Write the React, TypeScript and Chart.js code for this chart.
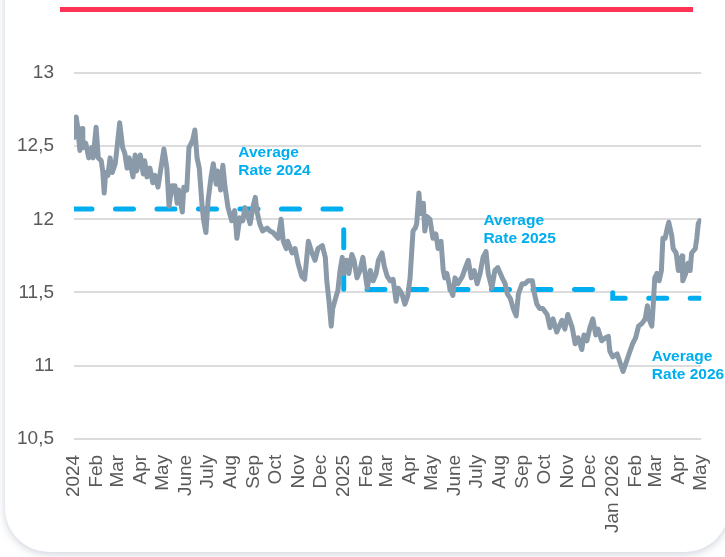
import React, { useEffect, useRef } from 'react';
import { Chart, registerables } from 'chart.js';

Chart.register(...registerables);

// Days since 2024-01-01 of each month start shown on the x axis
const tickDays = [0, 31, 60, 91, 121, 152, 182, 213, 244, 274, 305, 335, 366, 397, 425, 456, 486, 517, 547, 578, 609, 639, 670, 700, 731, 762, 790, 821, 851];
const tickLabels = ['2024', 'Feb', 'Mar', 'Apr', 'May', 'June', 'July', 'Aug', 'Sep', 'Oct', 'Nov', 'Dec', '2025', 'Feb', 'Mar', 'Apr', 'May', 'June', 'July', 'Aug', 'Sep', 'Oct', 'Nov', 'Dec', 'Jan 2026', 'Feb', 'Mar', 'Apr', 'May'];

// Observation days (since 2024-01-01) and rates
const days = [0, 3, 5, 8, 11, 12, 16, 20, 24, 26, 30, 33, 37, 39, 41, 43, 46, 49, 52, 56, 58, 62, 66, 69, 72, 75, 80, 83, 85, 90, 94, 96, 99, 103, 107, 110, 114, 118, 122, 126, 129, 133, 137, 140, 142, 147, 149, 153, 156, 161, 164, 167, 170, 174, 176, 179, 182, 186, 189, 193, 195, 199, 202, 205, 209, 214, 218, 221, 225, 229, 232, 235, 239, 243, 246, 248, 252, 256, 262, 266, 270, 277, 281, 284, 288, 290, 296, 300, 304, 309, 313, 318, 323, 327, 331, 337, 341, 343, 346, 349, 351, 356, 358, 361, 364, 366, 370, 373, 377, 380, 384, 388, 392, 395, 398, 402, 406, 410, 413, 418, 421, 425, 429, 433, 437, 440, 445, 449, 453, 456, 460, 463, 465, 468, 470, 474, 476, 479, 483, 487, 491, 494, 498, 501, 503, 506, 510, 514, 517, 521, 527, 531, 535, 539, 543, 547, 551, 555, 559, 562, 567, 571, 575, 581, 585, 588, 592, 596, 600, 603, 608, 612, 616, 622, 624, 628, 632, 636, 642, 646, 650, 655, 662, 666, 670, 676, 680, 684, 689, 692, 696, 700, 704, 708, 711, 716, 721, 725, 727, 731, 737, 741, 745, 749, 753, 758, 762, 766, 771, 775, 778, 780, 784, 786, 788, 791, 794, 797, 799, 802, 805, 807, 811, 813, 817, 820, 822, 825, 826, 830, 833, 836, 838, 843, 845, 847, 849];
const rates = [12.56, 12.70, 12.63, 12.47, 12.62, 12.49, 12.52, 12.42, 12.49, 12.42, 12.63, 12.42, 12.40, 12.33, 12.18, 12.32, 12.30, 12.42, 12.32, 12.38, 12.47, 12.66, 12.49, 12.45, 12.35, 12.42, 12.29, 12.44, 12.33, 12.44, 12.31, 12.40, 12.29, 12.35, 12.25, 12.30, 12.22, 12.35, 12.48, 12.35, 12.09, 12.23, 12.23, 12.11, 12.20, 12.05, 12.22, 12.20, 12.49, 12.54, 12.61, 12.42, 12.35, 12.08, 11.99, 11.91, 12.13, 12.29, 12.38, 12.24, 12.33, 12.20, 12.37, 12.22, 12.08, 11.99, 12.06, 11.87, 12.01, 11.99, 12.08, 12.04, 11.97, 12.09, 12.15, 12.06, 11.97, 11.92, 11.94, 11.92, 11.91, 11.87, 12.00, 11.85, 11.80, 11.85, 11.77, 11.80, 11.70, 11.61, 11.59, 11.85, 11.77, 11.72, 11.80, 11.82, 11.74, 11.58, 11.44, 11.27, 11.39, 11.48, 11.51, 11.65, 11.74, 11.63, 11.72, 11.63, 11.76, 11.72, 11.60, 11.65, 11.74, 11.63, 11.53, 11.65, 11.58, 11.63, 11.72, 11.77, 11.68, 11.61, 11.58, 11.59, 11.44, 11.53, 11.49, 11.42, 11.48, 11.60, 11.92, 11.94, 11.97, 12.18, 12.04, 12.11, 11.92, 12.02, 12.00, 11.87, 11.90, 11.80, 11.85, 11.65, 11.60, 11.63, 11.53, 11.48, 11.60, 11.56, 11.61, 11.67, 11.72, 11.60, 11.65, 11.56, 11.63, 11.74, 11.78, 11.63, 11.53, 11.65, 11.67, 11.60, 11.56, 11.49, 11.46, 11.39, 11.34, 11.49, 11.56, 11.56, 11.58, 11.58, 11.51, 11.42, 11.39, 11.39, 11.35, 11.26, 11.32, 11.23, 11.31, 11.25, 11.35, 11.26, 11.15, 11.19, 11.11, 11.21, 11.17, 11.26, 11.32, 11.21, 11.25, 11.17, 11.19, 11.20, 11.10, 11.06, 11.08, 11.02, 10.96, 11.02, 11.08, 11.15, 11.19, 11.27, 11.29, 11.32, 11.41, 11.32, 11.27, 11.42, 11.60, 11.63, 11.58, 11.65, 11.87, 11.87, 11.94, 11.98, 11.89, 11.80, 11.77, 11.65, 11.72, 11.75, 11.58, 11.63, 11.70, 11.65, 11.77, 11.80, 11.87, 11.97, 11.99];

// Yearly averages
const avgYears = ['2024', '2025', '2026'];
const avgStartDays = [0, 366, 731];
const avgEndDays = [366, 731, 849];
const avgValues = [12.07, 11.52, 11.46];

const yTicks = [10.5, 11, 11.5, 12, 12.5, 13];

const annotationLabels = [
  { lines: ['Average', 'Rate 2024'], day: 223, rate: 12.425 },
  { lines: ['Average', 'Rate 2025'], day: 555.5, rate: 11.961 },
  { lines: ['Average', 'Rate 2026'], day: 784, rate: 11.029 },
];

const FONT = "'Liberation Sans', Arial, Helvetica, sans-serif";
const BLUE = '#00aeef';

export default function App() {
  const ref = useRef<HTMLCanvasElement | null>(null);

  useEffect(() => {
    if (!ref.current) return;
    const linePoints = days.map((d, i) => ({ x: d, y: rates[i] }));
    const avgPoints: { x: number; y: number }[] = [];
    avgYears.forEach((_, i) => {
      avgPoints.push({ x: avgStartDays[i], y: avgValues[i] });
      avgPoints.push({ x: avgEndDays[i], y: avgValues[i] });
    });

    const labelPlugin = {
      id: 'avgLabels',
      afterDatasetsDraw(chart: any) {
        const { ctx, scales } = chart;
        ctx.save();
        ctx.fillStyle = BLUE;
        ctx.font = `bold 15.5px ${FONT}`;
        ctx.textAlign = 'left';
        ctx.textBaseline = 'alphabetic';
        annotationLabels.forEach((a) => {
          const x = scales.x.getPixelForValue(a.day);
          const y = scales.y.getPixelForValue(a.rate);
          a.lines.forEach((t, k) => ctx.fillText(t, x, y + k * 18));
        });
        ctx.restore();
      },
    };

    const chart = new Chart(ref.current, {
      type: 'line',
      data: {
        datasets: [
          {
            label: 'Rate',
            data: linePoints,
            borderColor: '#8a9aa9',
            borderWidth: 5,
            pointRadius: 0,
            tension: 0,
            borderJoinStyle: 'round',
            borderCapStyle: 'round',
            fill: false,
          },
          {
            label: 'Average',
            data: avgPoints,
            borderColor: BLUE,
            borderWidth: 5,
            borderDash: [18, 23.5],
            borderCapStyle: 'round',
            pointRadius: 0,
            tension: 0,
            fill: false,
          },
        ],
      },
      options: {
        animation: false,
        responsive: true,
        maintainAspectRatio: false,
        layout: { padding: { top: 73, left: 17, right: 11, bottom: 8 } },
        plugins: { legend: { display: false }, tooltip: { enabled: false } },
        scales: {
          x: {
            type: 'linear',
            min: 0,
            max: 851,
            afterBuildTicks: (axis: any) => {
              axis.ticks = tickDays.map((v) => ({ value: v }));
            },
            ticks: {
              autoSkip: false,
              minRotation: 90,
              maxRotation: 90,
              padding: 16,
              color: '#595959',
              font: { family: FONT, size: 19 },
              callback: (value: any) => {
                const i = tickDays.indexOf(Number(value));
                return i >= 0 ? tickLabels[i] : '';
              },
            },
            grid: { display: false, drawTicks: false },
            border: { display: false },
          },
          y: {
            min: 10.5,
            max: 13,
            afterBuildTicks: (axis: any) => {
              axis.ticks = yTicks.map((v) => ({ value: v }));
            },
            ticks: {
              padding: 20,
              color: '#595959',
              font: { family: FONT, size: 19 },
              callback: (value: any) => String(value).replace('.', ','),
            },
            grid: { color: '#dcdcdc', lineWidth: 2, drawTicks: false },
            border: { display: false },
          },
        },
      },
      plugins: [labelPlugin],
    });
    return () => chart.destroy();
  }, []);

  return (
    <div style={{ position: 'fixed', left: 0, top: 0, width: 725, height: 557, background: '#ffffff', overflow: 'hidden' }}>
      <div
        style={{
          position: 'absolute',
          left: 5,
          top: -60,
          width: 724,
          height: 612,
          borderRadius: 44,
          background: '#ffffff',
          boxShadow: '0 2px 8px rgba(110,125,150,0.35)',
        }}
      />
      <div style={{ position: 'absolute', left: 60, top: 7, width: 633, height: 5, background: '#ff3355' }} />
      <div style={{ position: 'absolute', left: -20, top: 0, width: 760, height: 557 }}>
        <canvas ref={ref} />
      </div>
    </div>
  );
}
